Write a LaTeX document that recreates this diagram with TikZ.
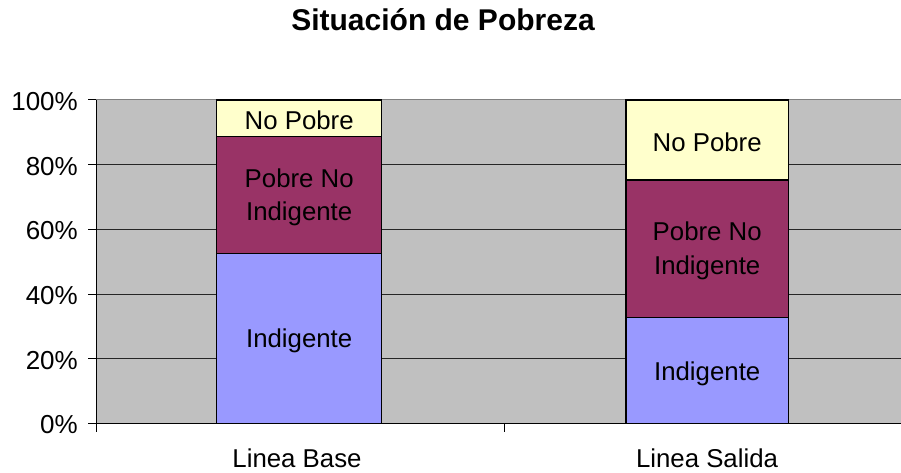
\documentclass[tikz,border=0pt]{standalone}
\usepackage{fontspec}
\setmainfont{Liberation Sans}
\definecolor{plotgray}{HTML}{C0C0C0}
\definecolor{nopobre}{HTML}{FFFFCC}
\definecolor{pobre}{HTML}{993366}
\definecolor{indig}{HTML}{9999FF}
\definecolor{frame}{HTML}{808080}
\begin{document}
\begin{tikzpicture}[x=1pt,y=-1pt,
  seg/.style={draw=black,line width=1.4pt},
  lbl/.style={font=\fontsize{25.8}{33.5}\selectfont,align=center,inner sep=0pt},
  ylbl/.style={font=\fontsize{26}{30}\selectfont,anchor=east,inner sep=0pt},
  grid/.style={draw=black!85,line width=0.9pt},
  axis/.style={draw=black,line width=1pt}]
\useasboundingbox (0,0) rectangle (901,473);
% plot area
\fill[plotgray] (96,100) rectangle (901,423.5);
\draw[frame,line width=1pt] (96,100) -- (901,100);
% gridlines
\foreach \v in {20,40,60,80} {
  \draw[grid] (96,{423.5-3.235*\v}) -- (901,{423.5-3.235*\v});
}
% bar 1 (Linea Base)
\draw[seg,fill=indig] (216.7,423.5) rectangle (381.7,253.3);
\draw[seg,fill=pobre] (216.7,253.3) rectangle (381.7,136.7);
\draw[seg,fill=nopobre] (216.7,136.7) rectangle (381.7,100);
% bar 2 (Linea Salida)
\draw[seg,fill=indig] (626,423.5) rectangle (788.3,317.7);
\draw[seg,fill=pobre] (626,317.7) rectangle (788.3,180);
\draw[seg,fill=nopobre] (626,180) rectangle (788.3,100);
% axes
\draw[axis] (96,100) -- (96,423.5) -- (901,423.5);
\foreach \v in {0,20,40,60,80,100} {
  \draw[axis] (88,{423.5-3.235*\v}) -- (96,{423.5-3.235*\v});
}
\foreach \x in {96,504} {
  \draw[axis] (\x,423.5) -- (\x,432);
}
% y labels
\node[ylbl] (y0) at (78,425) {0\%};
\node[ylbl] (y20) at (78,360.3) {20\%};
\node[ylbl] (y40) at (78,295.6) {40\%};
\node[ylbl] (y60) at (78,230.9) {60\%};
\node[ylbl] (y80) at (78,166.2) {80\%};
\node[ylbl] (y100) at (78,101.5) {100\%};
% bar labels
\node[lbl] (b1np) at (299.2,120) {No Pobre};
\node[lbl] (b1pn) at (299.2,197.5) {Pobre No\\Indigente};
\node[lbl] (b1in) at (299.2,341) {Indigente};
\node[lbl] (b2np) at (707.2,142) {No Pobre};
\node[lbl] (b2pn) at (707.2,251) {Pobre No\\Indigente};
\node[lbl] (b2in) at (707.2,373.5) {Indigente};
% category labels
\node[lbl] (c1) at (297,458) {Linea Base};
\node[lbl] (c2) at (707,458) {Linea Salida};
% title
\node[font=\fontsize{30}{36}\selectfont\bfseries,inner sep=0pt] (title) at (443,20) {Situación de Pobreza};
\end{tikzpicture}
\end{document}
